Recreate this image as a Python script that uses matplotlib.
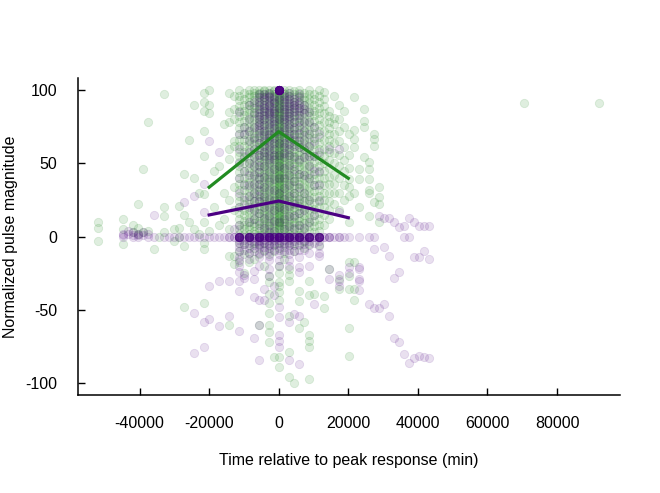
import matplotlib
matplotlib.use("Agg")
import matplotlib.pyplot as plt
import numpy as np

# time offsets are read in days off the picture, plotted in minutes
MIN_PER_DAY = 1440

green_day = [-36, -31, -29, -28, -27, -26, -25, -24, -23, -21, -20, -19, -18, -17, -16,
             -15, -14, -13, -12, -11, -10, -9, -8, -7, -6, -5, -4, -3, -2, -1,
             0, 1, 2, 3, 4, 5, 6, 7, 8, 9, 10, 11, 12, 13, 14, 15, 16, 17, 18, 19, 20,
             49, 64]
green_mag = [
    [10, 6, -3],
    [12, 5, -5],
    [8, 3],
    [22, 6, 2],
    [46, 3],
    [78, 4],
    [-8.5],
    [0],
    [97, 20, 14, 3],
    [5, -3],
    [21, 6, 0],
    [43, 15, -6.5, -48],
    [66, 10],
    [90, 40, 5],
    [30, 2],
    [98, 92, 86, 72, 55, 29, 10, -4, -8.5, -45],
    [100, 90, 84, 4],
    [45, 20],
    [48, 8],
    [77, 30, 12],
    [98, 85, 78, 60, 53, 25, 5, -13, -60],
    [96, 87, 80, 65, 62, 34, 18, -13, -19],
    [100, 96, 93, 89, 86, 82, 78, 74, 70, 66, 62, 58, 55, 51, 48, 44, 40, 36, 32, 28, 24,
     20, 16, 12, 8, 5, 2, -4, -10, -17.5],
    [98, 94, 90, 86, 83, 79, 75, 70, 66, 62, 58, 54, 50, 45, 40, 36, 32, 27, 22, 18, 15, 11,
     8, 5, 2, -5, -12, -25],
    [100, 97, 95, 92, 90, 87, 84, 81, 78, 75, 72, 69, 66, 63, 60, 57, 53, 50, 47, 44, 40, 37,
     34, 31, 28, 25, 22, 19, 16, 13, 10, 7, 5, 2, 0, -6, -11, -17],
    [100, 98, 96, 93, 90, 88, 85, 83, 80, 77, 74, 71, 68, 66, 63, 60, 57, 54, 51, 48, 45, 42,
     39, 36, 33, 30, 27, 24, 21, 18, 15, 12, 9, 7, 4, 2, -4, -8, -15],
    [100, 98, 97, 95, 93, 91, 89, 87, 85, 82, 80, 78, 76, 73, 71, 69, 66, 64, 61, 59, 56, 54,
     51, 49, 46, 44, 41, 39, 36, 34, 31, 29, 26, 24, 21, 19, 16, 14, 11, 9, 6, 4, 1, -5,
     -12, -60],
    [100, 99, 97, 95, 94, 92, 90, 88, 86, 84, 82, 80, 78, 76, 74, 72, 70, 68, 66, 64, 62, 60,
     58, 56, 54, 52, 50, 48, 46, 44, 42, 40, 38, 36, 34, 32, 30, 28, 26, 24, 22, 20, 18, 16,
     14, 12, 10, 8, 6, 4, 2, -4, -9, -20],
    [100, 98, 97, 95, 93, 91, 89, 87, 85, 83, 81, 79, 77, 75, 73, 71, 69, 67, 65, 63, 61, 59,
     57, 55, 53, 51, 49, 47, 45, 43, 41, 39, 37, 35, 33, 31, 29, 27, 25, 23, 21, 19, 17, 15,
     13, 11, 9, 7, 5, 3, 1, -6, -12, -27, -31, -39, -45, -52, -60, -65, -72],
    [100, 99, 97, 96, 94, 92, 91, 89, 87, 85, 84, 82, 80, 78, 76, 74, 72, 70, 68, 66, 64, 62,
     60, 58, 56, 54, 52, 50, 48, 46, 44, 42, 40, 38, 36, 34, 32, 30, 28, 26, 24, 22, 20, 18,
     16, 14, 12, 10, 8, 6, 4, 2, 0, -5, -10, -82],
    [98, 97, 96, 95, 94, 93, 92, 91, 90, 89, 88, 87, 86, 85, 84, 83, 82, 81, 80, 79, 78, 77,
     76, 75, 74, 73, 72, 71, 70, 69, 68, 67, 66, 65, 64, 63, 62, 61, 60, 59, 58, 57, 56, 55,
     54, 53, 52, 51, 50, 49, 48, 47, 46, 45, 44, 43, 42, 41, 40, 39, 38, 37, 36, 35, 34, 33,
     32, 31, 30, 29, 28, 27, 26, 25, 24, 23, 22, 21, 20, 19, 18, 17, 16, 15, 14, 13, 12, 11,
     10, 9, 8, 7, 6, 5, 3, 1, -4, -8, -20, -25, -31, -34, -38, -43, -82, -89],
    [100, 98, 97, 95, 93, 91, 89, 87, 85, 83, 81, 79, 77, 75, 73, 71, 69, 67, 65, 63, 61, 59,
     57, 55, 53, 51, 49, 47, 45, 43, 41, 39, 37, 35, 33, 31, 29, 27, 25, 23, 21, 19, 17, 15,
     13, 11, 9, 7, 5, 3, 1, -5, -11, -15],
    [100, 98, 96, 94, 92, 90, 88, 86, 84, 82, 80, 78, 76, 74, 72, 70, 68, 66, 64, 62, 60, 58,
     56, 54, 52, 50, 48, 46, 44, 42, 40, 38, 36, 34, 32, 30, 28, 26, 24, 22, 20, 18, 16, 14,
     12, 10, 8, 6, 4, 2, -6, -22, -26, -30, -54, -79, -96],
    [99, 97, 95, 92, 90, 88, 85, 83, 80, 78, 75, 73, 70, 68, 65, 63, 60, 58, 55, 53, 50, 48,
     45, 43, 40, 38, 35, 33, 30, 28, 25, 23, 20, 18, 15, 13, 10, 8, 5, 2, -4, -10, -99.5],
    [100, 98, 96, 93, 91, 88, 86, 83, 81, 78, 76, 73, 71, 68, 66, 63, 61, 58, 56, 53, 51, 48,
     46, 43, 41, 38, 36, 33, 31, 28, 26, 23, 21, 18, 16, 13, 11, 8, 6, 3, 1, -6, -37, -44,
     -62],
    [98, 95, 93, 90, 87, 84, 81, 78, 75, 72, 69, 66, 63, 60, 57, 54, 51, 48, 45, 42, 39, 36,
     33, 30, 27, 24, 21, 18, 15, 12, 9, 6, 3, -3, -8, -58],
    [100, 97, 94, 91, 88, 85, 82, 79, 76, 73, 70, 67, 64, 61, 58, 55, 52, 49, 46, 43, 40, 37,
     34, 31, 28, 25, 22, 19, 16, 13, 10, 7, 4, -5, -30, -40, -67, -71, -75.5, -97],
    [97, 94, 90, 86, 83, 79, 75, 71, 67, 63, 59, 55, 51, 47, 43, 39, 35, 31, 27, 23, 19, 15,
     11, 7, 3, -39],
    [100, 96, 92, 88, 84, 80, 76, 72, 68, 64, 60, 56, 52, 48, 44, 40, 36, 32, 28, 24, 20, 16,
     12, 8, 4, -6],
    [98.5, 94, 89, 84, 78, 72, 66, 60, 55, 50, 45, 40, 35, 30, 25, 20, 15, 8, -40.5, -49],
    [86, 82, 78, 74, 70, 66, 62, 58, 52, 47, 41, 36, 30, 24, 18, 12, -22],
    [96, 81, 77, 70, 64, 57, 50, 42, 36, 30, 22],
    [90, 80, 72, 65, 56, 48, 40, 30, 18, -29, -36],
    [86, 75, 61, 52, 45, 35, 25],
    [70, 56, 47, 39, 34, 28, 10, -17.5, -27, -36, -62, -81.5],
    [95, 73, 66.5, 61, 30, -17, -36, -43],
    [46, 39, 20],
    [87, 79, 75, 54],
    [51, 46, 39, 32, 30, 14],
    [70, 66.5, 62, 23.5],
    [34, 27, 22, 10],
    [91],
    [91],
]

purple_day = [-31, -30, -29, -28, -27, -26, -25, -23, -22, -21, -20, -19, -18, -17, -16,
              -15, -14, -13, -12, -11, -10, -9, -8, -7, -6, -5, -4, -3, -2, -1,
              0, 1, 2, 3, 4, 5, 6, 7, 8, 9, 10, 11, 12, 13, 14, 16, 18, 19,
              20, 21, 22, 23, 24, 25, 26, 27, 28, 29, 30]
purple_mag = [
    [2, 1, 0],
    [4, 2],
    [3, 1, 0],
    [2, 1, 0],
    [3, 1],
    [2, 0],
    [15, 0],
    [0],
    [0],
    [0],
    [0],
    [23.5, 0],
    [0],
    [28, 0, -52, -79.5],
    [0],
    [36, 17, 0, -58, -75.5],
    [65, 0, -34, -56],
    [0],
    [58, 0, -30, -61],
    [0],
    [0, 0, -30, -54],
    [0, 0, 5],
    [85, 70, 60, 50, 40, 30, 20, 8, 0, 0, 0, 0, 0, 0, 0, 0, 0, 0, 0, 0, -2, -4, -7, -10,
     -14, -16, -20, -24, -30, -37, -64.5],
    [75, 70, 55, 45, 35, 25, 0, 0, -2, -5, -9, -26, -28],
    [90, 80, 72, 65, 58, 50, 42, 35, 28, 20, 10, 0, 0, 0, 0, 0, 0, 0, 0, 0, 0, 0, 0,
     -2, -4, -8, -11, -15],
    [92, 84, 75, 67, 60, 54, 48, 42, 36, 30, 24, 18, 12, 0, 0, 0, 0, -3, -6, -10, -23.5,
     -29, -41, -69],
    [97, 95, 92, 90, 87, 84, 82, 80, 78, 76, 74, 72, 68, 64, 60, 56, 52, 48, 44, 40, 36, 32,
     28, 24, 16, 8, 0, 0, 0, 0, 0, 0, 0, 0, 0, 0, 0, 0, -2, -3, -5, -6, -8, -11, -14, -20,
     -43, -60, -84],
    [97, 95, 93, 90, 88, 86, 83, 80, 76, 72, 69, 65, 62, 58, 55, 48, 41, 34, 27, 20, 13, 6,
     0, 0, 0, 0, 0, 0, -2, -4, -7, -10, -36, -43],
    [98, 96, 95, 92, 90, 89, 86, 84, 83, 80, 77, 74, 70, 68, 65, 62, 59, 56, 53, 50, 44, 38,
     32, 26, 20, 14, 8, 3, 0, 0, 0, 0, 0, 0, 0, 0, 0, 0, 0, 0, -2, -4, -6, -8, -10, -13,
     -16, -22, -27],
    [95, 93, 91, 88, 86, 84, 81, 79, 77, 74, 71, 67, 64, 60, 56, 53, 46, 39, 32, 25, 18, 11,
     4, 0, 0, 0, 0, 0, 0, 0, -2, -3, -6, -9, -34, -40],
    [100, 100, 100, 100, 100, 100, 100, 100, 100, 100, 100, 100, 100, 100, 100, 100, 100,
     100, 100, 100, 100, 100, 100, 100, 94, 88, 80, 72, 64, 56, 48, 40, 30, 20, 10,
     0, 0, 0, 0, 0, 0, 0, 0, 0, 0, 0, 0, 0, 0, -2, -4, -6, -9, -12, -16, -20, -48, -55, -67,
     -71, -75],
    [96, 94, 92, 89, 87, 85, 82, 80, 78, 75, 72, 68, 64, 61, 57, 54, 47, 40, 33, 26, 19, 12,
     5, 0, 0, 0, 0, 0, 0, 0, -2, -4, -7, -10],
    [98, 96, 94, 91, 89, 87, 84, 82, 80, 77, 74, 70, 67, 63, 60, 56, 49, 42, 35, 28, 21, 14,
     7, 0, 0, 0, 0, 0, 0, 0, 0, 0, 0, 0, 0, -2, -4, -6, -9, -12, -16, -20, -58, -84],
    [94, 92, 90, 88, 86, 82, 78, 74, 70, 66, 62, 54, 46, 38, 30, 22, 14, 6, 0, 0, 0, 0, 0,
     0, -3, -6, -10, -53],
    [97, 95, 92, 90, 88, 85, 83, 79, 75, 70, 65, 61, 52, 43, 34, 25, 16, 8, 0, 0, 0, 0, 0,
     0, 0, 0, 0, 0, 0, 0, -2, -5, -9, -14, -21, -24, -54, -87],
    [90, 87, 84, 78, 72, 66, 60, 54, 42, 30, 18, 6, 0, 0, 0, 0, -3, -5, -9],
    [85, 78, 70, 62, 55, 48, 40, 25, 10, 0, 0, 0, 0, 0, 0, 0, 0, 0, 0, 0, 0, 0, -3, -6, -11,
     -20],
    [75, 65, 55, 45, 35, 15, 0, 0, 0, -4, -46],
    [70, 58, 45, 35, 25, 0, 0, 0, 0, 0, 0, 0, 0, 0, 0, 0, 0, -3, -6.5, -11, -13],
    [0, 0],
    [60, 0, 0, 0, -22, -29],
    [0],
    [60, 17, 0, 0, -26, -30, -34],
    [0],
    [0, -21, -25],
    [0, -21, -22, -29, -30, -36.5],
    [0, -46],
    [0, -8.5, -49],
    [14, -49],
    [13, -7, -46],
    [12.5, -13, -54],
    [10, -28, -69],
    [6.5, -24, -72],
    [7, 0, -80],
    [13, 0, -86],
    [10, -14, -83],
    [7, -14, -81.5],
    [7, -10, -82],
    [7, -15, -83],
]

# binned means drawn as lines
line_time = [-20000, 0, 20000]
green_line = [33.7, 71.6, 39.8]
purple_line = [14.8, 24.3, 12.9]

GREEN = "#228b22"
PURPLE = "#4b0082"


def flatten(days, mags):
    xs, ys = [], []
    for d, col in zip(days, mags):
        xs.extend([d * MIN_PER_DAY] * len(col))
        ys.extend(col)
    return np.asarray(xs, dtype=float), np.asarray(ys, dtype=float)


plt.rcParams["font.family"] = ["Liberation Sans", "DejaVu Sans"]
plt.rcParams["axes.unicode_minus"] = False

fig = plt.figure(figsize=(6.6, 4.93), dpi=100)
ax = fig.add_axes([0.1182, 0.1988, 0.8212, 0.643])

gx, gy = flatten(green_day, green_mag)
px, py = flatten(purple_day, purple_mag)
ax.scatter(gx, gy, s=36, color=GREEN, alpha=0.14, linewidths=0.6)
ax.scatter(px, py, s=36, color=PURPLE, alpha=0.12, linewidths=0.6)

ax.plot(line_time, green_line, color=GREEN, linewidth=2.3, zorder=5)
ax.plot(line_time, purple_line, color=PURPLE, linewidth=2.3, zorder=5)

ax.set_xlim(-57700, 98100)
ax.set_ylim(-108, 108.2)
ax.set_xticks([-40000, -20000, 0, 20000, 40000, 60000, 80000])
ax.set_yticks([-100, -50, 0, 50, 100])

for side in ["top", "right"]:
    ax.spines[side].set_visible(False)
for side in ["left", "bottom"]:
    ax.spines[side].set_linewidth(1.1)
ax.tick_params(direction="in", length=5, width=1.0, labelsize=11.5, pad=15)

ax.set_xlabel("Time relative to peak response (min)", fontsize=11.5, labelpad=16)
ax.set_ylabel("Normalized pulse magnitude", fontsize=11.5, labelpad=5)

fig.savefig("out.png", dpi=100)
